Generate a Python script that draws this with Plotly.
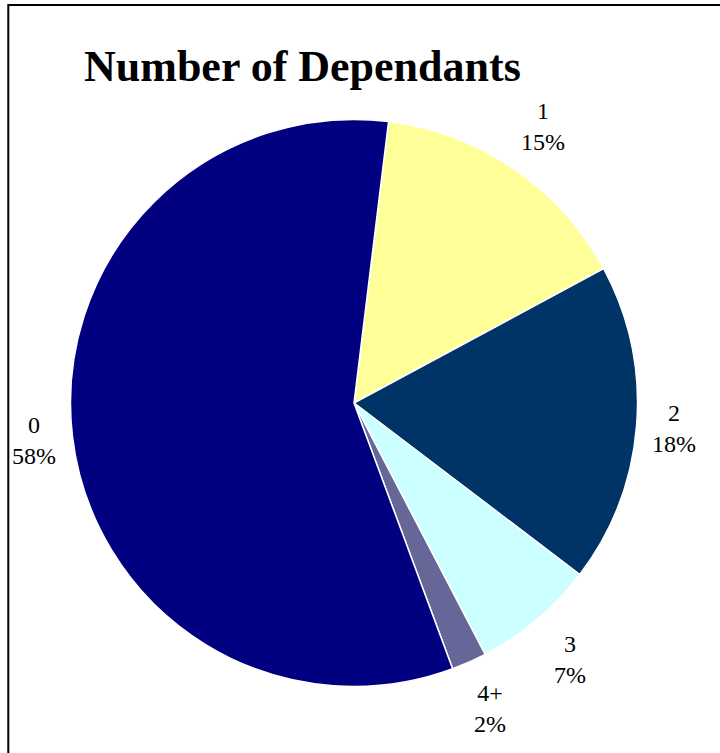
import math
import plotly.graph_objects as go

labels = ["1", "2", "3", "4+", "0"]
values = [15.2, 18.2, 7.0, 2.0, 57.6]
colors = ["#FFFF99", "#003366", "#CCFFFF", "#666699", "#000080"]
title_text = "Number of Dependants"

W, H = 720, 753
cx, cy, R = 354, 403, 283.5
ROT = 7.0

fig = go.Figure(go.Pie(
    labels=labels,
    values=values,
    sort=False,
    direction="clockwise",
    rotation=ROT,
    marker=dict(colors=colors, line=dict(color="white", width=1.5)),
    textinfo="none",
    domain=dict(x=[(cx - R) / W, (cx + R) / W], y=[(H - cy - R) / H, (H - cy + R) / H]),
    showlegend=False,
    hoverinfo="label+percent",
))

# outside labels placed at each slice's mid angle (derived from the values)
total = sum(values)
annos = []
cum = 0.0
pad, hw, hh = 13, 22, 32
for lab, v in zip(labels, values):
    mid = math.radians(ROT + 360.0 * (cum + v / 2) / total)
    cum += v
    s, c = math.sin(mid), -math.cos(mid)
    d = R + pad + abs(s) * hw + abs(c) * hh
    px, py = cx + d * s, cy + d * c
    annos.append(dict(
        text=f"{lab}<br>{round(100 * v / total)}%",
        xref="paper", yref="paper",
        x=px / W, y=1 - py / H,
        xanchor="center", yanchor="middle",
        showarrow=False,
        font=dict(family="Liberation Serif", size=24, color="black"),
    ))

annos.append(dict(
    text="<b>" + title_text + "</b>",
    xref="paper", yref="paper",
    x=82 / W, y=1 - 66.5 / H,
    xanchor="left", yanchor="middle",
    showarrow=False,
    font=dict(family="Liberation Serif", size=44, color="black"),
))

fig.update_layout(
    width=W, height=H,
    margin=dict(l=0, r=0, t=0, b=0),
    paper_bgcolor="white",
    plot_bgcolor="white",
    annotations=annos,
    shapes=[dict(
        type="rect", xref="paper", yref="paper",
        x0=8.3 / W, x1=1.05, y0=-0.05, y1=1 - 5 / H,
        line=dict(color="black", width=2),
        fillcolor="rgba(0,0,0,0)",
    )],
)

fig.write_html(
    "out.html",
    config={"displayModeBar": False},
    post_script="document.body.style.margin='0';document.body.style.overflow='hidden';",
)
